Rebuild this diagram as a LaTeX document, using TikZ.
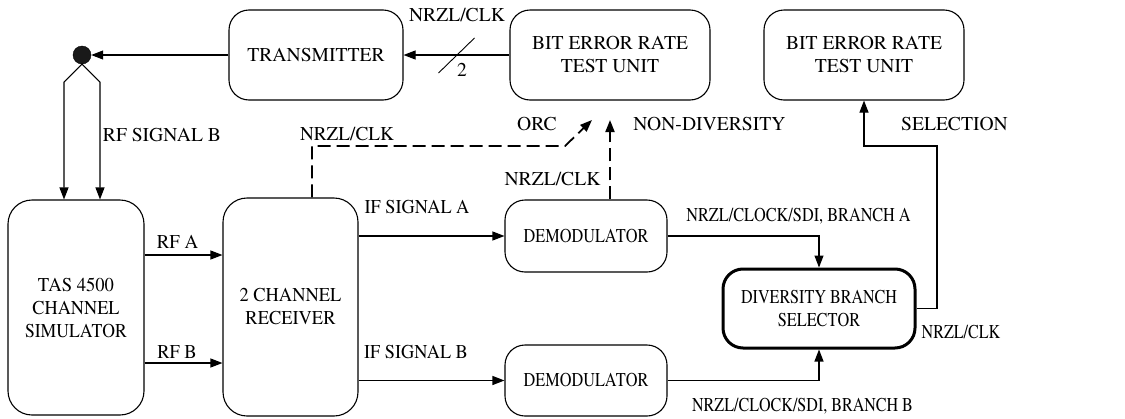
\documentclass[tikz,border=0pt]{standalone}
\usepackage{fontspec}
\setmainfont{TeX Gyre Termes}
\usetikzlibrary{arrows.meta,calc}
% horizontally condensed text
\newcommand\cond[2]{\scalebox{#1}[1]{#2}}
\begin{document}
\begin{tikzpicture}[x=1pt,y=-1pt,
  font=\fontsize{19.6}{23}\selectfont,
  blk/.style={draw,line width=1.1pt,rounded corners=20pt,align=center,inner sep=0pt},
  arr/.style={line width=1.1pt,-{Triangle[length=12pt,width=9pt]}},
  dsh/.style={arr,line width=1.8pt,dash pattern=on 13pt off 6pt},
  lbl/.style={inner sep=0pt,text height=13pt,text depth=0pt}]
\useasboundingbox (0,0) rectangle (1125,418);

% blocks
\node[blk,minimum width=174pt,minimum height=90pt] (tx) at (316,55) {TRANSMITTER};
\node[blk,minimum width=200pt,minimum height=90pt] (bert1) at (610,55) {BIT ERROR RATE\\TEST UNIT};
\node[blk,minimum width=200pt,minimum height=90pt] (bert2) at (864,55) {BIT ERROR RATE\\TEST UNIT};
\node[blk,rounded corners=24pt,minimum width=136pt,minimum height=215pt] (tas) at (76,307.5)
  {\cond{0.95}{TAS 4500}\\\cond{0.93}{CHANNEL}\\\cond{0.9}{SIMULATOR}};
\node[blk,rounded corners=24pt,minimum width=135pt,minimum height=218pt] (rx) at (290.5,307)
  {\cond{0.94}{2 CHANNEL}\\\cond{0.94}{RECEIVER}};
\node[blk,minimum width=162pt,minimum height=72pt] (demA) at (586,236) {\cond{0.83}{DEMODULATOR}};
\node[blk,minimum width=162pt,minimum height=71pt] (demB) at (586,380.5) {\cond{0.83}{DEMODULATOR}};
\node[blk,line width=3pt,minimum width=192pt,minimum height=79pt] (dbs) at (819,308.5)
  {\cond{0.82}{DIVERSITY BRANCH}\\\cond{0.83}{SELECTOR}};
\node[circle,fill=black!90,draw,inner sep=0pt,minimum size=18pt] (dot) at (82,55) {};

% free ends of the two arrows into the first test unit
\coordinate (orc) at (592,120);
\coordinate (nd) at (610,120);

% transmitter path
\draw[arr] (bert1.west) -- (tx.east);
\coordinate (mid) at ($(bert1.west)!0.5!(tx.east)$);
\draw[line width=0.9pt] ($(mid)+(-18,18)$) -- ($(mid)+(18,-17)$);
\node[lbl] at (462,70) {2};
\draw[arr] (tx.west) -- (dot.east);
\draw[arr] (dot.south) -- ++(-18,18) coordinate (dl) -- (dl |- tas.north);
\draw[arr] (dot.south) -- ++(18,18) coordinate (dr) -- (dr |- tas.north);

% simulator to receiver
\draw[arr] (tas.east |- 0,255) -- (rx.west |- 0,255);
\draw[arr] (tas.east |- 0,363) -- (rx.west |- 0,363);

% receiver to demodulators
\draw[arr] (rx.east |- demA.west) -- (demA.west);
\draw[arr] (rx.east |- demB.west) -- (demB.west);

% demodulators to selector
\draw[arr] (demA.east) -| (dbs.north);
\draw[arr] (demB.east) -| (dbs.south);

% selector output to the second test unit
\draw[arr] (dbs.east) -| (937,146) -| (bert2.south);

% dashed test paths
\draw[dsh] (rx.north -| 312,0) -- (312,146) -- (565,146) -- (orc);
\draw[dsh] (demA.north -| nd) -- (nd);

% labels
\node[lbl] at (457,15) {NRZL/CLK};
\node[lbl] at (162,135) {RF SIGNAL B};
\node[lbl] at (347,134) {\cond{0.98}{NRZL/CLK}};
\node[lbl] at (537,124) {ORC};
\node[lbl] at (709.5,124) {NON-DIVERSITY};
\node[lbl] at (552.5,179) {NRZL/CLK};
\node[lbl] at (954.5,124) {SELECTION};
\node[lbl] at (417,207) {\cond{0.93}{IF SIGNAL A}};
\node[lbl] at (416,352) {\cond{0.93}{IF SIGNAL B}};
\node[lbl] at (177.5,242) {\cond{0.96}{RF A}};
\node[lbl] at (177,352) {\cond{0.94}{RF B}};
\node[lbl] at (798.5,215) {\cond{0.83}{NRZL/CLOCK/SDI, BRANCH A}};
\node[lbl] at (802.5,405) {\cond{0.82}{NRZL/CLOCK/SDI, BRANCH B}};
\node[lbl] at (961,332) {\cond{0.82}{NRZL/CLK}};
\end{tikzpicture}
\end{document}
